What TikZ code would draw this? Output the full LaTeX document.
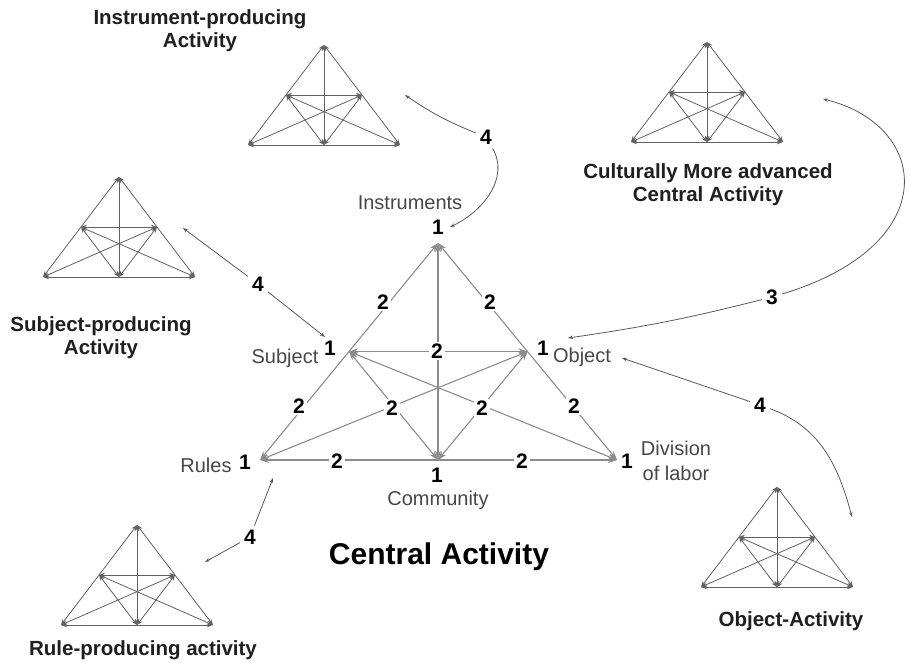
\documentclass[tikz,border=0pt]{standalone}
\usepackage{fontspec}
\setmainfont{Liberation Sans}
\usetikzlibrary{arrows.meta}
\newcommand\minitri[3]{%
  \coordinate (#1a) at (#2,#3);
  \coordinate (#1l) at (#2-38,#3+50);
  \coordinate (#1r) at (#2+38,#3+50);
  \coordinate (#1bl) at (#2-76,#3+100);
  \coordinate (#1bm) at (#2,#3+100);
  \coordinate (#1br) at (#2+76,#3+100);
  \foreach \u/\v in {a/bl,a/br,bl/br,l/r,a/bm,l/bm,r/bm,l/br,r/bl}
    \draw[sedge] (#1\u) -- (#1\v);
}
\begin{document}
\begin{tikzpicture}[x=1pt,y=-1pt,
  cedge/.style={draw=black!45, line width=1.1pt,
    {Stealth[length=9pt,width=6pt,fill=black!55]}-{Stealth[length=9pt,width=6pt,fill=black!55]}},
  sedge/.style={draw=black!62, line width=0.8pt,
    {Stealth[length=6pt,width=4.5pt]}-{Stealth[length=6pt,width=4.5pt]}},
  two/.style={fill=white, inner sep=2pt, font=\fontsize{21}{21}\selectfont\bfseries},
  one/.style={inner sep=0pt, font=\fontsize{21}{21}\selectfont\bfseries},
  lab/.style={inner sep=0pt, text=black!72, align=center, font=\fontsize{20}{25}\selectfont},
  ttl/.style={inner sep=0pt, align=center, text=black!88, font=\fontsize{20.5}{23}\selectfont\bfseries},
  cnum/.style={inner sep=4pt, font=\fontsize{21}{21}\selectfont\bfseries},
  thinarr/.style={draw=black!65, line width=0.8pt, -{Stealth[length=5pt,width=3.5pt]}},
]
\useasboundingbox (0,0) rectangle (910,663);

% central activity vertices
\coordinate (I) at (438,243);
\coordinate (R) at (260,460);
\coordinate (D) at (617,460);
\coordinate (S) at (349,351.5);
\coordinate (O) at (527.5,351.5);
\coordinate (C) at (438,460);

\foreach \u/\v in {I/R,I/D,R/D,S/O,I/C,S/C,O/C,S/D,O/R}
  \draw[cedge] (\u) -- (\v);

% relation labels
\node[two] (e1) at (383,302) {2};
\node[two] (e2) at (490,302) {2};
\node[two] (e3) at (437,351) {2};
\node[two] (e4) at (299,406) {2};
\node[two] (e5) at (392,408) {2};
\node[two] (e6) at (482,408) {2};
\node[two] (e7) at (574,406) {2};
\node[two] (e8) at (337,461) {2};
\node[two] (e9) at (522,461) {2};

% element labels
\node[one] (I1) at (438,227) {1};
\node[one] (S1) at (330,348) {1};
\node[one] (O1) at (543,348) {1};
\node[one] (R1) at (245,462) {1};
\node[one] (C1) at (437,475) {1};
\node[one] (D1) at (627,461) {1};

\node[lab] (tI) at (410,203) {Instruments};
\node[lab] (tS) at (285,358) {Subject};
\node[lab] (tO) at (582,357) {Object};
\node[lab] (tR) at (206,465) {Rules};
\node[lab] (tC) at (438,500) {Community};
\node[lab] (tD) at (676,461) {Division\\of labor};

\node[inner sep=0pt, font=\fontsize{30}{30}\selectfont\bfseries] (central) at (439,557) {Central Activity};

% small activity systems
\minitri{Pi}{324}{45}
\minitri{Ps}{119}{177}
\minitri{Pc}{707}{42}
\minitri{Pr}{137}{525}
\minitri{Po}{777}{487}

\node[ttl] (ti) at (200,31) {Instrument-producing\\Activity};
\node[ttl] (ts) at (101,338) {Subject-producing\\Activity};
\node[ttl] (tc) at (708,185) {Culturally More advanced\\Central Activity};
\node[ttl] (tr) at (143,650) {Rule-producing activity};
\node[ttl] (to) at (791,621) {Object-Activity};

% numbered connectors
\node[cnum] (n4i) at (486,137) {4};
\node[cnum] (n4s) at (258,284) {4};
\node[cnum] (n3) at (772,297) {3};
\node[cnum] (n4o) at (760,405) {4};
\node[cnum] (n4r) at (250,537) {4};

\coordinate (ti1) at (405,95);
\coordinate (ti2) at (450,227);
\coordinate (ts1) at (183,228);
\coordinate (ts2) at (325,337);
\coordinate (tc1) at (823,99);
\coordinate (tc2) at (568,338);
\coordinate (to1) at (622,358);
\coordinate (to2) at (852,517);
\coordinate (tr1) at (273,478);
\coordinate (tr2) at (205,562);

\draw[thinarr] (n4i) to[bend left=6] (ti1);
\draw[thinarr] (n4i) to[out=-60,in=25] (ti2);
\draw[thinarr] (n4s) -- (ts1);
\draw[thinarr] (n4s) -- (ts2);
\draw[thinarr] (n3) .. controls (945,245) and (930,125) .. (tc1);
\draw[thinarr] (n3) to[bend left=3] (tc2);
\draw[thinarr] (n4o) -- (to1);
\draw[thinarr] (n4o) to[out=-20,in=105] (to2);
\draw[thinarr] (n4r) -- (tr1);
\draw[thinarr] (n4r) -- (tr2);
\end{tikzpicture}
\end{document}
